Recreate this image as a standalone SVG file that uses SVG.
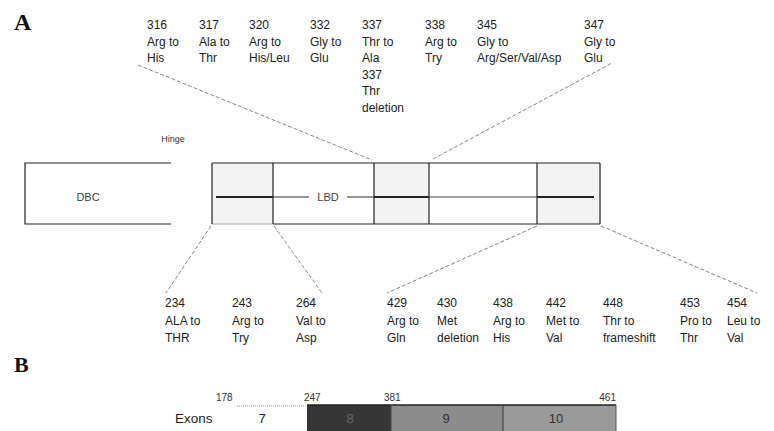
<svg xmlns="http://www.w3.org/2000/svg" width="774" height="431" viewBox="0 0 774 431">
<style>
.lbl{font-family:"Liberation Sans",Arial,sans-serif;font-size:12px;fill:#222}
.small{font-family:"Liberation Sans",Arial,sans-serif;font-size:9px;fill:#333}
.num{font-family:"Liberation Sans",Arial,sans-serif;font-size:10px;fill:#333}
.head{font-family:"Liberation Serif","Times New Roman",serif;font-weight:bold;fill:#111}
.box{fill:none;stroke:#222;stroke-width:1.2}
.dash{fill:none;stroke:#888;stroke-width:1;stroke-dasharray:4 2}
.shade{fill:#f3f3f3;stroke:none}
</style>
<rect width="774" height="431" fill="#fff"/>
<text class="head" x="14" y="30" font-size="24">A</text>
<text class="head" x="14" y="372" font-size="22">B</text>

<g id="connectors">
<line class="dash" x1="138" y1="65" x2="372" y2="160"/>
<line class="dash" x1="433" y1="159" x2="612" y2="63"/>
<line class="dash" x1="211" y1="226" x2="166" y2="293"/>
<line class="dash" x1="274" y1="226" x2="322" y2="293"/>
<line class="dash" x1="537" y1="226" x2="387" y2="293"/>
<line class="dash" x1="601" y1="226" x2="757" y2="293"/>
</g>

<g id="dbd">
<polyline class="box" points="171,163 25,163 25,224 171,224"/>
<text x="88" y="201" text-anchor="middle" font-family="Liberation Sans,Arial,sans-serif" font-size="11" fill="#444">DBC</text>
</g>

<g id="hinge">
<text class="small" x="173" y="142" text-anchor="middle">Hinge</text>
</g>

<g id="lbd">
<rect class="shade" x="212" y="163" width="61" height="61"/>
<rect class="shade" x="374" y="163" width="55" height="61"/>
<rect class="shade" x="537" y="163" width="63" height="61"/>
<line class="box" x1="212" y1="163" x2="600" y2="163"/>
<line class="box" x1="273" y1="224" x2="600" y2="224"/>
<line x1="212" y1="224" x2="273" y2="224" stroke="#aaa" stroke-width="1"/>
<line class="box" x1="212" y1="163" x2="212" y2="224"/>
<line class="box" x1="273" y1="163" x2="273" y2="224"/>
<line class="box" x1="374" y1="163" x2="374" y2="224"/>
<line class="box" x1="429" y1="163" x2="429" y2="224"/>
<line class="box" x1="537" y1="163" x2="537" y2="224"/>
<line class="box" x1="600" y1="163" x2="600" y2="224"/>
<line x1="216" y1="197" x2="273" y2="197" stroke="#222" stroke-width="2"/>
<line x1="273" y1="197" x2="309" y2="197" stroke="#333" stroke-width="1"/>
<line x1="347" y1="197" x2="374" y2="197" stroke="#333" stroke-width="1"/>
<line x1="374" y1="197" x2="429" y2="197" stroke="#222" stroke-width="2"/>
<line x1="429" y1="197" x2="537" y2="197" stroke="#444" stroke-width="1"/>
<line x1="537" y1="197" x2="594" y2="197" stroke="#222" stroke-width="2"/>
<text x="328" y="201" text-anchor="middle" font-family="Liberation Sans,Arial,sans-serif" font-size="11" fill="#444">LBD</text>
</g>

<g id="top-labels" class="lbl">
<text x="147" y="29"><tspan x="147">316</tspan><tspan x="147" dy="16.6">Arg to</tspan><tspan x="147" dy="16.6">His</tspan></text>
<text x="199" y="29"><tspan x="199">317</tspan><tspan x="199" dy="16.6">Ala to</tspan><tspan x="199" dy="16.6">Thr</tspan></text>
<text x="249" y="29"><tspan x="249">320</tspan><tspan x="249" dy="16.6">Arg to</tspan><tspan x="249" dy="16.6">His/Leu</tspan></text>
<text x="310" y="29"><tspan x="310">332</tspan><tspan x="310" dy="16.6">Gly to</tspan><tspan x="310" dy="16.6">Glu</tspan></text>
<text x="362" y="29"><tspan x="362">337</tspan><tspan x="362" dy="16.6">Thr to</tspan><tspan x="362" dy="16.6">Ala</tspan><tspan x="362" dy="16.6">337</tspan><tspan x="362" dy="16.6">Thr</tspan><tspan x="362" dy="16.6">deletion</tspan></text>
<text x="425" y="29"><tspan x="425">338</tspan><tspan x="425" dy="16.6">Arg to</tspan><tspan x="425" dy="16.6">Try</tspan></text>
<text x="477" y="29"><tspan x="477">345</tspan><tspan x="477" dy="16.6">Gly to</tspan><tspan x="477" dy="16.6">Arg/Ser/Val/Asp</tspan></text>
<text x="584" y="29"><tspan x="584">347</tspan><tspan x="584" dy="16.6">Gly to</tspan><tspan x="584" dy="16.6">Glu</tspan></text>
</g>

<g id="bottom-labels" class="lbl">
<text x="165" y="307"><tspan x="165">234</tspan><tspan x="165" dy="17.5">ALA to</tspan><tspan x="165" dy="17.5">THR</tspan></text>
<text x="232" y="307"><tspan x="232">243</tspan><tspan x="232" dy="17.5">Arg to</tspan><tspan x="232" dy="17.5">Try</tspan></text>
<text x="296" y="307"><tspan x="296">264</tspan><tspan x="296" dy="17.5">Val to</tspan><tspan x="296" dy="17.5">Asp</tspan></text>
<text x="387" y="307"><tspan x="387">429</tspan><tspan x="387" dy="17.5">Arg to</tspan><tspan x="387" dy="17.5">Gln</tspan></text>
<text x="437" y="307"><tspan x="437">430</tspan><tspan x="437" dy="17.5">Met</tspan><tspan x="437" dy="17.5">deletion</tspan></text>
<text x="493" y="307"><tspan x="493">438</tspan><tspan x="493" dy="17.5">Arg to</tspan><tspan x="493" dy="17.5">His</tspan></text>
<text x="546" y="307"><tspan x="546">442</tspan><tspan x="546" dy="17.5">Met to</tspan><tspan x="546" dy="17.5">Val</tspan></text>
<text x="603" y="307"><tspan x="603">448</tspan><tspan x="603" dy="17.5">Thr to</tspan><tspan x="603" dy="17.5">frameshift</tspan></text>
<text x="680" y="307"><tspan x="680">453</tspan><tspan x="680" dy="17.5">Pro to</tspan><tspan x="680" dy="17.5">Thr</tspan></text>
<text x="727" y="307"><tspan x="727">454</tspan><tspan x="727" dy="17.5">Leu to</tspan><tspan x="727" dy="17.5">Val</tspan></text>
</g>

<g id="exons">
<text x="175" y="423" font-family="Liberation Sans,Arial,sans-serif" font-size="13.5" fill="#222">Exons</text>
<text class="num" x="216" y="401">178</text>
<text class="num" x="304" y="401">247</text>
<text class="num" x="384" y="401">381</text>
<text class="num" x="616" y="401" text-anchor="end">461</text>
<line x1="237" y1="406" x2="304" y2="406" stroke="#999" stroke-width="1" stroke-dasharray="1 1"/>
<text x="262" y="423" text-anchor="middle" font-family="Liberation Sans,Arial,sans-serif" font-size="13" fill="#222">7</text>
<rect x="307" y="405" width="84" height="26" fill="#363636"/>
<rect x="391" y="405" width="112" height="26" fill="#8c8c8c"/>
<rect x="503" y="405" width="113" height="26" fill="#9a9a9a"/>
<line x1="307" y1="405" x2="616" y2="405" stroke="#222" stroke-width="1.5"/>
<line x1="391" y1="405" x2="391" y2="431" stroke="#444" stroke-width="1"/>
<line x1="503" y1="405" x2="503" y2="431" stroke="#333" stroke-width="1"/>
<line x1="616" y1="405" x2="616" y2="431" stroke="#555" stroke-width="1"/>
<text x="350" y="423" text-anchor="middle" font-family="Liberation Sans,Arial,sans-serif" font-size="13" fill="#666">8</text>
<text x="446" y="423" text-anchor="middle" font-family="Liberation Sans,Arial,sans-serif" font-size="13" fill="#333">9</text>
<text x="556" y="423" text-anchor="middle" font-family="Liberation Sans,Arial,sans-serif" font-size="13" fill="#333">10</text>
</g>
</svg>
